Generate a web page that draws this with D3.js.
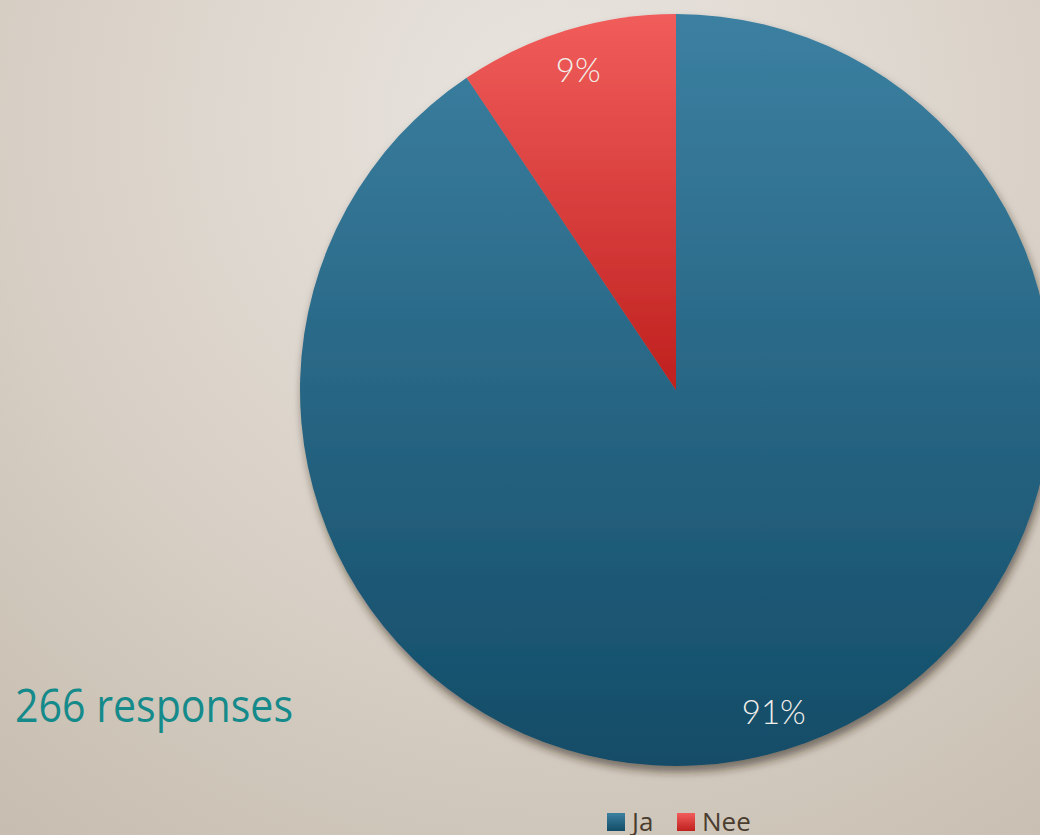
<!DOCTYPE html>
<html>
<head>
<meta charset="utf-8">
<script src="https://cdn.jsdelivr.net/npm/d3@7"></script>
<style>
  html, body { margin: 0; padding: 0; overflow: hidden; }
  svg { display: block; }
</style>
</head>
<body>
<svg id="chart" width="1040" height="835"></svg>
<script>
// Survey answers: Ja / Nee
const categories = ["Ja", "Nee"];
const counts = [241, 25];
const totalLabel = "266 responses";

const W = 1040, H = 835;
const cx = 676, cy = 390, R = 376;

const svg = d3.select("#chart");
const defs = svg.append("defs");

// page background: soft warm paper tone
const bg = defs.append("radialGradient").attr("id", "bg")
  .attr("gradientUnits", "userSpaceOnUse")
  .attr("cx", 560).attr("cy", 120).attr("r", 900);
bg.append("stop").attr("offset", "0%").attr("stop-color", "#e9e5e0");
bg.append("stop").attr("offset", "55%").attr("stop-color", "#d9d1c7");
bg.append("stop").attr("offset", "100%").attr("stop-color", "#c7bdb0");
svg.append("rect").attr("width", W).attr("height", H).attr("fill", "url(#bg)");

// slice fills
const fills = {
  Ja:  ["#3c80a1", "#134c67"],
  Nee: ["#f15d5b", "#bf201e"]
};
categories.forEach(c => {
  const g = defs.append("linearGradient").attr("id", "grad-" + c)
    .attr("x1", 0).attr("y1", 0).attr("x2", 0).attr("y2", 1);
  g.append("stop").attr("offset", "0%").attr("stop-color", fills[c][0]);
  g.append("stop").attr("offset", "100%").attr("stop-color", fills[c][1]);
});

const shadow = defs.append("filter").attr("id", "shadow")
  .attr("x", "-10%").attr("y", "-10%").attr("width", "120%").attr("height", "125%");
shadow.append("feDropShadow").attr("dx", 2).attr("dy", 6)
  .attr("stdDeviation", 4).attr("flood-color", "#2a1e12").attr("flood-opacity", 0.55);

const total = d3.sum(counts);
const data = categories.map((c, i) => ({ name: c, value: counts[i] }));
const pie = d3.pie().sort(null).value(d => d.value);
const arcs = pie(data);
const arc = d3.arc().innerRadius(0).outerRadius(R);
const labelArc = d3.arc().innerRadius(336).outerRadius(336);

const g = svg.append("g").attr("transform", `translate(${cx},${cy})`);
const slices = g.append("g").attr("filter", "url(#shadow)");
slices.selectAll("path").data(arcs).join("path")
  .attr("d", arc)
  .attr("fill", d => `url(#grad-${d.data.name})`);

g.selectAll("text.pct").data(arcs).join("text")
  .attr("class", "pct")
  .attr("transform", d => `translate(${labelArc.centroid(d)})`)
  .attr("text-anchor", "middle")
  .attr("dominant-baseline", "central")
  .attr("font-family", "Lato, 'Open Sans', sans-serif")
  .attr("font-weight", 300)
  .attr("font-size", 33)
  .attr("fill", "#f2eee9")
  .text(d => Math.round(d.data.value / total * 100) + "%");

// response count
svg.append("text")
  .attr("x", 15).attr("y", 722)
  .attr("font-family", "'Open Sans', sans-serif")
  .attr("font-size", 46)
  .attr("textLength", 278)
  .attr("lengthAdjust", "spacingAndGlyphs")
  .attr("fill", "#158a8a")
  .text(totalLabel);

// legend
const legend = svg.append("g").attr("transform", "translate(607,813)");
const itemX = [0, 70];
const items = legend.selectAll("g").data(categories).join("g")
  .attr("transform", (d, i) => `translate(${itemX[i]},0)`);
items.append("rect").attr("width", 18).attr("height", 18)
  .attr("fill", d => `url(#grad-${d})`);
items.append("text").attr("x", 25).attr("y", 18)
  .attr("font-family", "'Open Sans', sans-serif")
  .attr("font-size", 26)
  .attr("fill", "#4a3d2f")
  .text(d => d);
</script>
</body>
</html>
